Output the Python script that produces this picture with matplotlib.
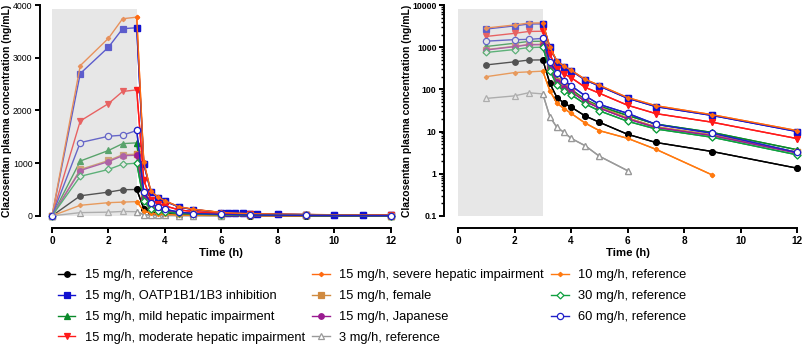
import numpy as np
import matplotlib.pyplot as plt
from matplotlib.patches import Rectangle

plt.rcParams['font.family'] = ['Liberation Sans', 'DejaVu Sans']

# sampling times (h); infusion 0-3 h
t_full = [1, 2, 2.5, 3, 3.25, 3.5, 3.75, 4, 4.5, 5, 6, 7, 9, 12]
t_10 = [1, 2, 2.5, 3, 3.25, 3.5, 3.75, 4, 4.5, 5, 6, 7, 9]
t_3 = [1, 2, 2.5, 3, 3.25, 3.5, 3.75, 4, 4.5, 5, 6]
infusion_end = 3

ref15 = [380, 450, 495, 500, 139, 64, 47, 38, 23.4, 16.6, 8.6, 5.5, 3.35, 1.35]
oatp15 = [2700, 3200, 3550, 3570, 990, 454, 346, 278, 167, 120, 61.5, 39, 24, 10]
mild15 = [1040, 1240, 1370, 1385, 350, 170, 125, 100, 57, 40, 24, 15, 9.5, 3.7]
moder15 = [1800, 2130, 2360, 2390, 678, 305, 232, 190, 112, 81, 42, 26.6, 16.6, 6.8]
severe15 = [2850, 3370, 3740, 3770, 1020, 470, 355, 285, 172, 125, 64, 41, 25, 10.5]
female15 = [880, 1050, 1160, 1170, 340, 155, 115, 92, 54, 38, 21, 13, 8.3, 3.2]
japan15 = [860, 1030, 1140, 1150, 330, 150, 110, 88, 52, 36, 20, 12.5, 8, 3.1]
ref3 = [61, 70, 83, 78, 22.5, 12.5, 9.6, 6.9, 4.6, 2.6, 1.18]
ref10 = [200, 250, 260, 270, 93, 47, 35, 27, 15.8, 10.5, 6.9, 3.8, 0.93]
ref30 = [750, 880, 980, 1000, 280, 125, 92, 75, 45, 31, 17.5, 11.5, 7.3, 2.8]
ref60 = [1390, 1510, 1530, 1620, 454, 245, 162, 123, 70, 44, 27, 14.8, 9.1, 3.2]

# extra late OATP samples only shown on the linear panel
oatp_extra_t = [6.25, 6.5, 6.75, 7.25, 8, 10, 11]
oatp_extra_v = [55, 50, 45, 35, 30, 17, 12]

series = [
    ("15 mg/h, reference", t_full, ref15, "black", "o", 4, "black"),
    ("15 mg/h, OATP1B1/1B3 inhibition", t_full, oatp15, "#1010d0", "s", 4, "#1010d0"),
    ("15 mg/h, mild hepatic impairment", t_full, mild15, "#0a8a2a", "^", 4, "#0a8a2a"),
    ("15 mg/h, moderate hepatic impairment", t_full, moder15, "#ff1a1a", "v", 4, "#ff1a1a"),
    ("15 mg/h, severe hepatic impairment", t_full, severe15, "#ff6a10", "D", 2.2, "#ff6a10"),
    ("15 mg/h, female", t_full, female15, "#d08a40", "s", 4, "#d08a40"),
    ("15 mg/h, Japanese", t_full, japan15, "#9a1a90", "o", 4, "#9a1a90"),
    ("3 mg/h, reference", t_3, ref3, "#9a9a9a", "^", 4, "white"),
    ("10 mg/h, reference", t_10, ref10, "#ff7a10", "D", 2.2, "#ff7a10"),
    ("30 mg/h, reference", t_full, ref30, "#10a040", "D", 3.5, "white"),
    ("60 mg/h, reference", t_full, ref60, "#2020c8", "o", 4.5, "white"),
]

fig = plt.figure(figsize=(8.03, 3.47), dpi=100)
ax1 = fig.add_axes([0.0648, 0.378, 0.4218, 0.6075])
ax2 = fig.add_axes([0.5704, 0.378, 0.4222, 0.6075])

handles = []
for ax, logy in [(ax1, False), (ax2, True)]:
    for name, t, v, col, mk, ms, fc in series:
        tt = list(t)
        vv = list(v)
        if not logy:
            tt = [0] + tt
            vv = [0] + vv
            if name.startswith("15 mg/h, OATP"):
                tt = tt[:12] + oatp_extra_t + tt[12:]
                vv = vv[:12] + oatp_extra_v + vv[12:]
                tt, vv = zip(*sorted(zip(tt, vv)))
        tt = np.array(tt, dtype=float)
        vv = np.array(vv, dtype=float)
        kw = dict(color=col, marker=mk, markersize=ms, markerfacecolor=fc,
                  markeredgecolor=col, markeredgewidth=0.9, linewidth=1.0,
                  clip_on=False)
        h, = ax.plot(tt, vv, zorder=2, label=name, **kw)
        after = tt >= infusion_end
        ax.plot(tt[after], vv[after], zorder=4, **kw)
        if ax is ax1:
            handles.append(h)

    for s in ['top', 'right']:
        ax.spines[s].set_visible(False)
    ax.spines['bottom'].set_position(('outward', 8.8))
    for s in ['left', 'bottom']:
        ax.spines[s].set_linewidth(1.4)
    ax.set_xlim(0, 12)
    ax.set_xticks(range(0, 13, 2))
    ax.tick_params(width=1.4, length=3.5, pad=2)
    ax.tick_params(axis='x', labelsize=7.2)
    ax.tick_params(axis='y', labelsize=6.3)
    ax.tick_params(which='minor', width=1.0, length=2.2)
    for lab in ax.get_xticklabels() + ax.get_yticklabels():
        lab.set_fontweight('bold')
    ax.set_xlabel("Time (h)", fontsize=8.2, fontweight='bold')
    ax.xaxis.set_label_coords(0.5, -0.152)
    ax.set_ylabel("Clazosentan plasma concentration (ng/mL)", fontsize=7.5,
                  fontweight='bold')

ax1.spines['left'].set_position(('outward', 8.6))
ax2.spines['left'].set_position(('outward', 10))
ax1.yaxis.set_label_coords(-0.118, 0.5)
ax2.yaxis.set_label_coords(-0.136, 0.5)

ax1.set_ylim(0, 4000)
ax1.set_yticks([0, 1000, 2000, 3000, 4000])
ax1.add_patch(Rectangle((0, 0), infusion_end, 3920, facecolor='#c8c8c8',
                        alpha=0.42, edgecolor='none', zorder=3))

ax2.set_yscale('log')
ax2.set_ylim(0.1, 10000)
ax2.set_yticks([0.1, 1, 10, 100, 1000, 10000])
ax2.set_yticklabels(['0.1', '1', '10', '100', '1000', '10000'], fontweight='bold')
ax2.add_patch(Rectangle((0, 0.1), infusion_end, 7900 - 0.1, facecolor='#c8c8c8',
                        alpha=0.42, edgecolor='none', zorder=3))

fig.legend(handles=handles, loc='upper left', bbox_to_anchor=(0.0722, 0.2235),
           ncol=3, frameon=False, fontsize=9.3, handlelength=1.35,
           handletextpad=0.75, columnspacing=0.55, labelspacing=0.68,
           borderaxespad=0, borderpad=0)

fig.savefig("out.png", dpi=100)
